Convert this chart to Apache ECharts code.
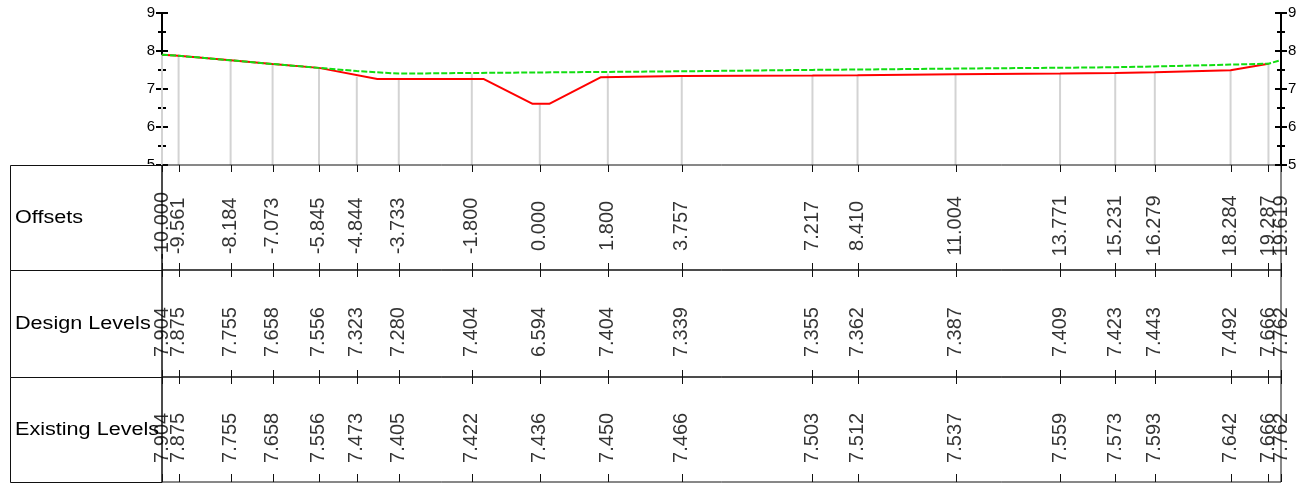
<!DOCTYPE html>
<html>
<head>
<meta charset="utf-8">
<script src="https://cdn.jsdelivr.net/npm/echarts@6/dist/echarts.min.js"></script>
<style>
  html, body { margin: 0; padding: 0; background: #fff; }
  #chart { width: 1303px; height: 495px; }
</style>
</head>
<body>
<div id="chart"></div>
<script>
// section data
const offsets = [-10, -9.561, -8.184, -7.073, -5.845, -4.844, -3.733, -1.8, 0, 1.8, 3.757, 7.217, 8.41, 11.004, 13.771, 15.231, 16.279, 18.284, 19.287, 19.619];
const designLevels = [7.904, 7.875, 7.755, 7.658, 7.556, 7.323, 7.280, 7.404, 6.594, 7.404, 7.339, 7.355, 7.362, 7.387, 7.409, 7.423, 7.443, 7.492, 7.666, 7.762];
const existingLevels = [7.904, 7.875, 7.755, 7.658, 7.556, 7.473, 7.405, 7.422, 7.436, 7.450, 7.466, 7.503, 7.512, 7.537, 7.559, 7.573, 7.593, 7.642, 7.666, 7.762];
// red design profile as drawn
const designLineOffsets = [-10, -9.561, -8.184, -7.073, -5.845, -4.30, -1.48, -0.19, 0.25, 1.62, 3.757, 7.217, 8.41, 11.004, 13.771, 15.231, 16.279, 18.284, 19.287];
const designLineLevels = [7.904, 7.875, 7.755, 7.658, 7.556, 7.265, 7.26, 6.61, 6.61, 7.31, 7.339, 7.355, 7.362, 7.387, 7.409, 7.423, 7.443, 7.492, 7.666];
const rowNames = ['Offsets', 'Design Levels', 'Existing Levels'];

const X_MIN = -10, X_MAX = 19.619;
const FONT = 'Liberation Sans, Arial, sans-serif';

const rows = [
  { name: rowNames[0], values: offsets, top: 165, height: 105 },
  { name: rowNames[1], values: designLevels, top: 270, height: 107 },
  { name: rowNames[2], values: existingLevels, top: 377, height: 105 }
];
// tick marks on the table rules: [from, to] in pixels
const ruleTicks = [[165, 172], [263, 277], [370, 384], [474, 482]];

const levelAxis = (pos, withLabels, inside, z) => ({
  gridIndex: 0, type: 'value', min: 5, max: 9, interval: 1, position: pos, z: z,
  axisLine: { show: true, onZero: false, lineStyle: { color: '#000', width: 2 } },
  axisTick: { show: true, inside: inside, length: 6, lineStyle: { color: '#000', width: 2 } },
  minorTick: { show: true, splitNumber: 2, length: 4, lineStyle: { color: '#000', width: 2 } },
  axisLabel: { show: withLabels, margin: 7, color: '#000', fontSize: 15, fontFamily: FONT },
  splitLine: { show: false }
});

const xAxes = [{ gridIndex: 0, type: 'value', min: X_MIN, max: X_MAX, show: false }];
const yAxes = [
  levelAxis('left', true, false, 0),
  levelAxis('left', false, true, 0),
  levelAxis('right', true, false, 5),
  levelAxis('right', false, true, 5)
];
const grids = [{ left: 162, right: 22, top: 13, height: 152 }];
const tableSeries = [];
const graphics = [];

rows.forEach((r, i) => {
  grids.push({ left: 162, right: 22, top: r.top, height: r.height, show: true, borderColor: '#111', borderWidth: 1, z: 3 });
  xAxes.push({ gridIndex: i + 1, type: 'value', min: X_MIN, max: X_MAX, show: false });
  yAxes.push({ gridIndex: i + 1, type: 'value', min: 0, max: 1, show: false });
  tableSeries.push({
    type: 'scatter',
    xAxisIndex: 1 + i,
    yAxisIndex: 4 + i,
    symbolSize: 0.1,
    itemStyle: { color: 'transparent' },
    silent: true,
    z: 4,
    data: offsets.map((x, k) => [x, 0.42, r.values[k].toFixed(3)]),
    label: {
      show: true, position: 'inside', rotate: 90,
      formatter: p => p.data[2],
      color: '#000', fontSize: 20, fontFamily: FONT
    }
  });
  graphics.push({
    type: 'rect', z: 1,
    shape: { x: 10.5, y: r.top + 0.5, width: 151.5, height: r.height },
    style: { fill: '#fff', stroke: '#111', lineWidth: 1 }
  });
  graphics.push({
    type: 'text', z: 4, x: 15, y: r.top + r.height / 2 + 1, scaleX: 1.2,
    style: { text: r.name, fill: '#000', fontSize: 18, fontFamily: FONT, verticalAlign: 'middle', align: 'left' }
  });
});

const chart = echarts.init(document.getElementById('chart'));
chart.setOption({
  animation: false,
  backgroundColor: '#fff',
  grid: grids,
  xAxis: xAxes,
  yAxis: yAxes,
  graphic: graphics,
  series: [
    {
      // grey drop lines from design level down to the base
      type: 'custom',
      xAxisIndex: 0, yAxisIndex: 0, z: 1, silent: true,
      data: offsets.map((x, k) => [x, designLevels[k]]),
      renderItem: (params, api) => {
        const p1 = api.coord([api.value(0), api.value(1)]);
        const p2 = api.coord([api.value(0), 5]);
        return {
          type: 'line',
          shape: { x1: p1[0], y1: p1[1], x2: p2[0], y2: p2[1] },
          style: { stroke: '#d3d3d3', lineWidth: 2 }
        };
      }
    },
    {
      // short ticks on the table rules at every offset
      type: 'custom',
      xAxisIndex: 0, yAxisIndex: 0, z: 5, silent: true, clip: false,
      data: offsets.map(x => [x, 5]),
      renderItem: (params, api) => {
        const x = Math.round(api.coord([api.value(0), 5])[0]) + 0.5;
        return {
          type: 'group',
          children: ruleTicks.map(t => ({
            type: 'line',
            shape: { x1: x, y1: t[0], x2: x, y2: t[1] },
            style: { stroke: '#111', lineWidth: 1 }
          }))
        };
      }
    },
    {
      type: 'line', xAxisIndex: 0, yAxisIndex: 0, z: 2,
      symbol: 'none', silent: true,
      data: designLineOffsets.map((x, k) => [x, designLineLevels[k]]),
      lineStyle: { color: '#ff0000', width: 2 }
    },
    {
      type: 'line', xAxisIndex: 0, yAxisIndex: 0, z: 3,
      symbol: 'none', silent: true,
      data: offsets.map((x, k) => [x, existingLevels[k]]),
      lineStyle: { color: '#11dd11', width: 2, type: [6, 2] }
    },
    ...tableSeries
  ]
});
</script>
</body>
</html>
